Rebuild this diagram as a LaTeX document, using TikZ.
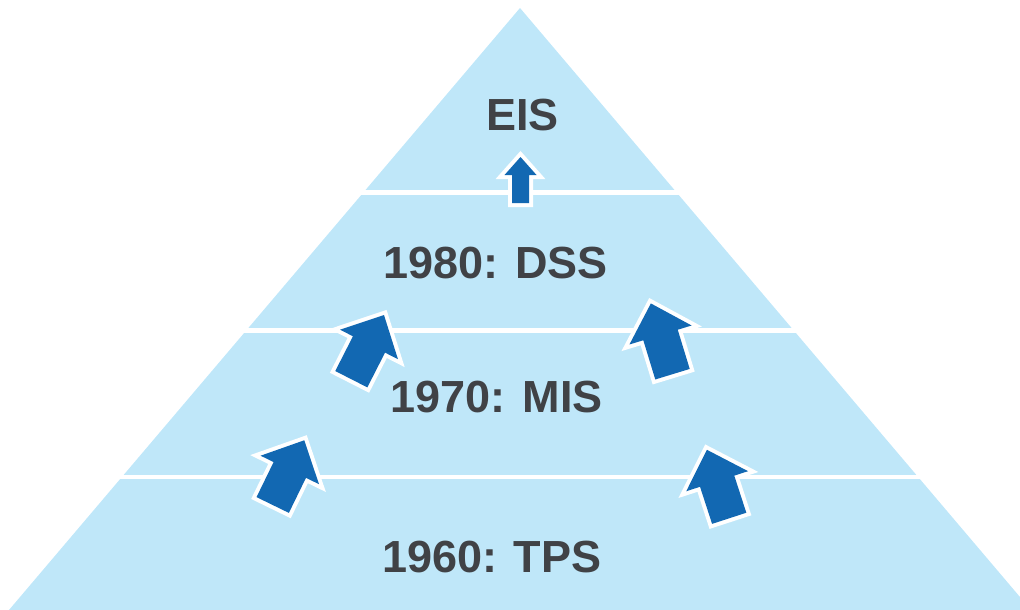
\documentclass[tikz,border=0pt]{standalone}
\usepackage{fontspec}
\setmainfont{Liberation Sans}
\definecolor{pyr}{RGB}{191,231,249}
\definecolor{arrblue}{RGB}{18,104,178}
\definecolor{txtgray}{RGB}{64,66,70}
\newcommand\barrowpath[4]{(-#4/2,0) -- (-#4/2,-#1+#2) -- (-#3/2,-#1+#2) -- (0,-#1) -- (#3/2,-#1+#2) -- (#4/2,-#1+#2) -- (#4/2,0) -- cycle}
\newcommand\barrow[7]{%
  \begin{scope}[shift={(#1,#2)},rotate=#3]
    \draw[arrowedge] \barrowpath{#4}{#5}{#6}{#7};
    \fill[arrowfill] \barrowpath{#4}{#5}{#6}{#7};
  \end{scope}}
\begin{document}
\begin{tikzpicture}[x=1pt,y=-1pt,
  lbl/.style={font=\fontsize{45}{50}\selectfont\bfseries, text=txtgray, inner sep=0pt, anchor=base},
  sepline/.style={white, line width=4.5pt},
  arrowedge/.style={white, line width=8pt, line join=miter},
  arrowfill/.style={fill=arrblue},
]
\useasboundingbox (0,0) rectangle (1020,610);
\begin{scope}
  \clip (0,0) rectangle (1020,610);
  \fill[pyr] (520,8) -- (9,610) -- (1031,610) -- cycle;
\end{scope}
% band separators
\draw[sepline] (360,192.5) -- (680,192.5);
\draw[sepline] (243,330.5) -- (797,330.5);
\draw[sepline] (119,477) -- (921,477);
% arrows: x, y (shaft bottom centre), angle, length, head length, head width, shaft width
\barrow{520.5}{203}{0}{46}{18}{32}{17}
\barrow{351.3}{379.2}{-27}{72}{33}{65}{36}
\barrow{672.5}{374.2}{17}{74}{33}{65}{36}
\barrow{272.7}{505}{-26}{72}{33}{65}{36}
\barrow{729.2}{518.3}{18}{72}{33}{65}{36}
% labels
\node[lbl] (eis) at (522.5,130) {EIS};
\node[lbl] (dss) at (495.8,278.3) {1980: DSS};
\node[lbl] (mis) at (496.7,412.7) {1970: MIS};
\node[lbl] (tps) at (491.7,572) {1960: TPS};
\end{tikzpicture}
\end{document}
